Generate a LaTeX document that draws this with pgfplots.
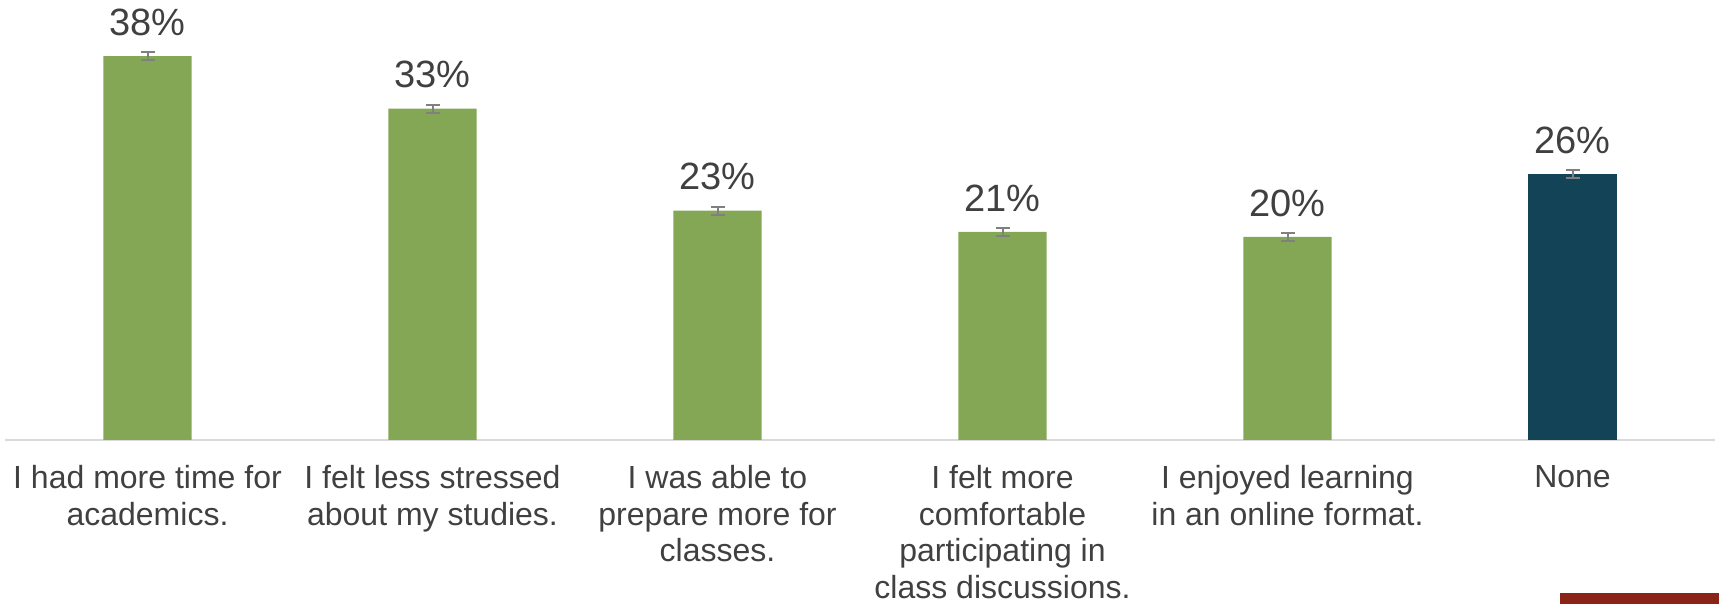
\documentclass[border=0pt]{standalone}
\usepackage{pgfplots}
\pgfplotsset{compat=1.18}
\usepackage{fontspec}
\setmainfont{Liberation Sans}
\definecolor{barG}{HTML}{84A756}
\definecolor{barN}{HTML}{124357}
\definecolor{txt}{HTML}{404040}
\definecolor{axl}{HTML}{D9D9D9}
\definecolor{errc}{HTML}{808080}
\definecolor{redb}{HTML}{8B2318}
\begin{document}
\begin{tikzpicture}
\useasboundingbox (0,0) rectangle (859.5pt,302pt);
\begin{axis}[
  at={(2.5pt,82pt)}, anchor=south west,
  scale only axis, width=855pt, height=202pt,
  ybar, bar width=0.31, bar shift=0pt,
  xmin=-0.5, xmax=5.5, ymin=0, ymax=40,
  axis x line=bottom, axis y line=none,
  axis line style={draw=axl, line width=1pt, -},
  xtick={0,1,2,3,4,5}, major tick length=0pt,
  xticklabels={{I had more time for\\academics.},{I felt less stressed\\about my studies.},{I was able to\\prepare more for\\classes.},{I felt more\\comfortable\\participating in\\class discussions.},{I enjoyed learning\\in an online format.},{None}},
  xticklabel style={font=\fontsize{16}{18.3}\selectfont, text=txt, align=center, anchor=north, inner sep=0pt, yshift=-12.5pt},
  /pgf/number format/assume math mode=true,
  nodes near coords={\pgfmathprintnumber[fixed,precision=0]{\pgfplotspointmeta}\%},
  every node near coord/.append style={font=\fontsize{19}{20}\selectfont, text=txt, inner sep=0pt, anchor=south, yshift=10pt},
  clip=false,
]
\addplot[fill=barG, draw=none, error bars/.cd, y dir=both, y explicit,
  error bar style={errc, line width=1pt},
  error mark options={rotate=90, errc, mark size=3.5pt, line width=1pt}]
  coordinates {(0,38.0) +- (0,0.4) (1,32.8) +- (0,0.4) (2,22.7) +- (0,0.4) (3,20.6) +- (0,0.4) (4,20.1) +- (0,0.4)};
\addplot[fill=barN, draw=none, error bars/.cd, y dir=both, y explicit,
  error bar style={errc, line width=1pt},
  error mark options={rotate=90, errc, mark size=3.5pt, line width=1pt}]
  coordinates {(5,26.3) +- (0,0.4)};
\end{axis}
\fill[redb] (780pt,0) rectangle (859.5pt,5.5pt);
\end{tikzpicture}
\end{document}
